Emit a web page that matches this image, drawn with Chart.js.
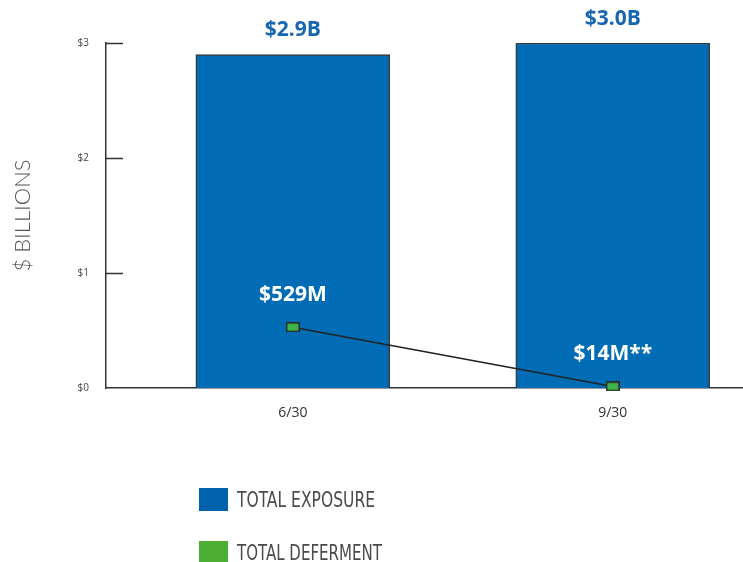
<!DOCTYPE html>
<html>
<head>
<meta charset="utf-8">
<title>Total Exposure vs Total Deferment</title>
<script src="https://cdn.jsdelivr.net/npm/chart.js@4.4.1/dist/chart.umd.min.js"></script>
<style>
  html, body { margin: 0; padding: 0; background: #fff; }
  #wrap { position: relative; width: 743px; height: 562px; overflow: hidden; }
  #legend {
    position: absolute; left: 199px; top: 488px;
    font-family: "Liberation Sans Narrow", "DejaVu Sans Condensed", "Roboto", sans-serif;
    font-size: 22px; color: #4a4a4a;
  }
  .item { display: flex; align-items: center; height: 23px; margin-bottom: 30px; }
  .swatch { width: 29px; height: 23px; margin-right: 9px; flex: none; }
  .text { display: inline-block; transform-origin: left center; white-space: nowrap; }
</style>
</head>
<body>
<div id="wrap">
  <canvas id="exposureChart" width="743" height="562"></canvas>
  <div id="legend"></div>
</div>
<script>
// Chart data
const categories = ["6/30", "9/30"];
const exposure = [2.9, 3.0];          // $ billions
const deferment = [0.529, 0.014];     // $ billions
const exposureLabels = ["$2.9B", "$3.0B"];
const defermentLabels = ["$529M", "$14M**"];
const yTicks = [0, 1, 2, 3];

const BLUE = "#006cb5";
const GREEN = "#3db54a";

/**
 * Build the small rectangular marker used for deferment points
 */
function makeMarker() {
  const c = document.createElement("canvas");
  c.width = 14;
  c.height = 10;
  const ctx = c.getContext("2d");
  ctx.fillStyle = GREEN;
  ctx.fillRect(0, 0, 14, 10);
  ctx.strokeStyle = "#2b2b2b";
  ctx.lineWidth = 1.5;
  ctx.strokeRect(0.75, 0.75, 12.5, 8.5);
  return c;
}

// Tick marks drawn inside the plot, to the right of the y axis
const innerTicks = {
  id: "innerTicks",
  afterDraw(chart) {
    const { ctx, chartArea } = chart;
    const y = chart.scales.y;
    ctx.save();
    ctx.strokeStyle = "#333";
    ctx.lineWidth = 1.5;
    y.ticks.forEach((t) => {
      if (t.value === 0) return;
      const py = Math.round(y.getPixelForValue(t.value)) + 0.5;
      ctx.beginPath();
      ctx.moveTo(chartArea.left, py);
      ctx.lineTo(chartArea.left + 17, py);
      ctx.stroke();
    });
    ctx.restore();
  },
};

// Value labels above bars and above deferment points
const valueLabels = {
  id: "valueLabels",
  afterDatasetsDraw(chart) {
    const { ctx } = chart;
    ctx.save();
    ctx.textAlign = "center";
    ctx.textBaseline = "middle";
    ctx.font = "bold 21px 'Open Sans', sans-serif";

    chart.getDatasetMeta(0).data.forEach((bar, i) => {
      ctx.fillStyle = "#1766b1";
      ctx.fillText(exposureLabels[i], bar.x, bar.y - 24);
    });
    chart.getDatasetMeta(1).data.forEach((pt, i) => {
      ctx.fillStyle = "#fff";
      ctx.fillText(defermentLabels[i], pt.x, pt.y - 32);
    });
    ctx.restore();
  },
};

const chart = new Chart(document.getElementById("exposureChart"), {
  data: {
    datasets: [
      {
        type: "bar",
        label: "TOTAL EXPOSURE",
        data: exposure.map((v, i) => ({ x: i, y: v })),
        backgroundColor: BLUE,
        borderColor: "#3a3a3a",
        borderWidth: 1.5,
        borderSkipped: "bottom",
        barThickness: 194,
        order: 2,
      },
      {
        type: "line",
        label: "TOTAL DEFERMENT",
        data: deferment.map((v, i) => ({ x: i, y: v })),
        borderColor: "#222",
        borderWidth: 1.5,
        pointStyle: makeMarker(),
        backgroundColor: GREEN,
        clip: false,
        order: 1,
      },
    ],
  },
  options: {
    responsive: false,
    animation: false,
    layout: { autoPadding: false, padding: { top: 43, bottom: 134, left: 0, right: 0 } },
    plugins: {
      legend: { display: false },
      tooltip: { enabled: false },
    },
    scales: {
      x: {
        type: "linear",
        offset: false,
        min: -0.584,
        max: 1.407,
        grid: { display: false, offset: false },
        border: { display: true, color: "#333", width: 1.5 },
        afterBuildTicks: (scale) => {
          scale.ticks = categories.map((_, i) => ({ value: i }));
        },
        ticks: {
          callback: (v) => categories[v] ?? "",
          padding: 9,
          color: "#333",
          font: { size: 14, family: "'Open Sans', sans-serif" },
          maxRotation: 0,
          autoSkip: false,
        },
        afterFit: (scale) => {
          scale.height = 40;
          scale.paddingLeft = 0;
          scale.paddingRight = 0;
        },
      },
      y: {
        min: 0,
        max: 3,
        afterBuildTicks: (scale) => {
          scale.ticks = yTicks.map((v) => ({ value: v }));
        },
        ticks: {
          callback: (v) => "$" + v,
          padding: 9,
          color: "#444",
          font: { size: 10, family: "'Open Sans', sans-serif" },
        },
        grid: { display: false },
        border: { display: true, color: "#333", width: 1.5 },
        title: {
          display: true,
          text: "$ BILLIONS",
          color: "#555",
          font: { size: 22, family: "Lato, 'Open Sans', sans-serif", weight: "300" },
          padding: { top: 10, bottom: 0 },
        },
        afterFit: (scale) => {
          scale.width = 106;
        },
      },
    },
  },
  plugins: [innerTicks, valueLabels],
});

// HTML legend built from datasets
const legend = document.getElementById("legend");
[
  { label: chart.data.datasets[0].label, color: "#0062ad", width: 138 },
  { label: chart.data.datasets[1].label, color: "#4cae33", width: 145 },
].forEach((item) => {
  const row = document.createElement("div");
  row.className = "item";
  const sw = document.createElement("span");
  sw.className = "swatch";
  sw.style.background = item.color;
  const txt = document.createElement("span");
  txt.className = "text";
  txt.textContent = item.label;
  row.appendChild(sw);
  row.appendChild(txt);
  legend.appendChild(row);
  // squeeze text to the narrow width used in the original legend
  const w = txt.getBoundingClientRect().width;
  if (w > item.width) txt.style.transform = "scaleX(" + (item.width / w) + ")";
});
</script>
</body>
</html>
